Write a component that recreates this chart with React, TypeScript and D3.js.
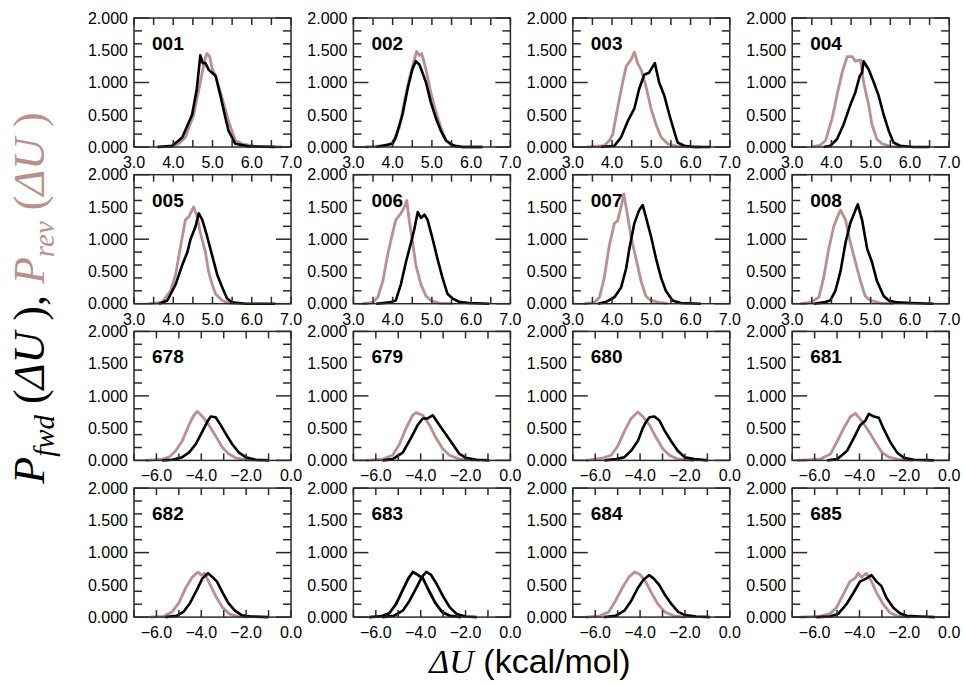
import { useEffect } from "react";
import { format, line, scaleLinear } from "d3";

type Pt = [number, number];

const panelNames = ["001", "002", "003", "004", "005", "006", "007", "008", "678", "679", "680", "681", "682", "683", "684", "685"];

const fwd001: Pt[] = [[3.6,0],[3.97,0.02],[4.14,0.1],[4.23,0.15],[4.48,0.5],[4.6,0.9],[4.69,1.42],[4.75,1.3],[4.82,1.3],[4.9,1.2],[5.08,1.1],[5.2,0.8],[5.33,0.45],[5.41,0.25],[5.58,0.05],[5.92,0.01],[6.6,0]];
const rev001: Pt[] = [[3.6,0],[3.97,0.01],[4.14,0.05],[4.31,0.15],[4.52,0.5],[4.69,1.0],[4.8,1.35],[4.86,1.45],[4.93,1.4],[4.99,1.22],[5.08,1.1],[5.25,0.75],[5.41,0.4],[5.58,0.1],[5.75,0.05],[6.09,0.01],[6.77,0]];
const fwd002: Pt[] = [[3.58,0],[4.0,0.05],[4.08,0.15],[4.25,0.5],[4.38,0.9],[4.5,1.2],[4.59,1.33],[4.68,1.28],[4.76,1.15],[4.85,1.0],[4.97,0.7],[5.1,0.45],[5.23,0.25],[5.36,0.1],[5.48,0.05],[5.57,0.02],[5.78,0],[6.29,0]];
const rev002: Pt[] = [[3.3,0],[3.83,0.02],[4.0,0.07],[4.17,0.3],[4.3,0.7],[4.42,1.05],[4.55,1.35],[4.61,1.48],[4.68,1.42],[4.74,1.45],[4.85,1.2],[4.97,0.85],[5.1,0.55],[5.23,0.3],[5.36,0.1],[5.48,0.03],[5.78,0],[6.29,0]];
const fwd003: Pt[] = [[3.72,0],[4.06,0.02],[4.23,0.15],[4.4,0.4],[4.57,0.6],[4.69,0.9],[4.82,1.12],[4.94,1.15],[5.09,1.3],[5.2,1.0],[5.33,0.8],[5.46,0.5],[5.58,0.25],[5.67,0.07],[5.84,0.02],[6.09,0],[6.5,0]];
const rev003: Pt[] = [[3.38,0],[3.8,0.02],[3.93,0.1],[4.02,0.2],[4.14,0.6],[4.27,1.0],[4.36,1.25],[4.48,1.35],[4.57,1.47],[4.65,1.3],[4.74,1.2],[4.86,0.95],[4.99,0.6],[5.12,0.35],[5.25,0.15],[5.42,0.05],[5.67,0.01],[6.26,0]];
const fwd004: Pt[] = [[3.8,0],[3.97,0.02],[4.14,0.12],[4.31,0.35],[4.48,0.65],[4.61,0.85],[4.72,1.1],[4.78,1.15],[4.82,1.33],[4.95,1.2],[5.08,1.0],[5.2,0.8],[5.33,0.5],[5.46,0.25],[5.58,0.07],[5.75,0.02],[6.09,0],[6.5,0]];
const rev004: Pt[] = [[3.47,0],[3.72,0.03],[3.85,0.1],[4.02,0.45],[4.14,0.8],[4.27,1.15],[4.4,1.4],[4.53,1.4],[4.61,1.33],[4.74,1.35],[4.82,1.0],[4.95,0.65],[5.03,0.35],[5.16,0.12],[5.29,0.05],[5.5,0.01],[5.75,0]];
const fwd005: Pt[] = [[3.64,0],[3.85,0.05],[4.06,0.3],[4.23,0.6],[4.36,0.8],[4.44,1.0],[4.57,1.2],[4.65,1.4],[4.74,1.3],[4.86,1.05],[4.99,0.75],[5.12,0.45],[5.25,0.25],[5.37,0.08],[5.5,0.02],[5.84,0],[6.6,0]];
const rev005: Pt[] = [[3.38,0],[3.72,0.02],[3.93,0.2],[4.06,0.45],[4.19,0.9],[4.31,1.3],[4.4,1.35],[4.48,1.45],[4.52,1.5],[4.61,1.35],[4.69,1.1],[4.82,0.8],[4.9,0.5],[4.99,0.3],[5.08,0.15],[5.25,0.05],[5.42,0.01],[5.67,0]];
const fwd006: Pt[] = [[3.58,0],[3.92,0.02],[4.08,0.05],[4.21,0.3],[4.34,0.65],[4.47,0.95],[4.55,1.15],[4.64,1.42],[4.72,1.33],[4.81,1.38],[4.89,1.3],[5.02,1.0],[5.14,0.7],[5.27,0.4],[5.4,0.15],[5.53,0.08],[5.69,0.03],[5.95,0.01],[6.46,0]];
const rev006: Pt[] = [[3.24,0],[3.49,0.02],[3.62,0.1],[3.75,0.35],[3.87,0.75],[4.0,1.1],[4.08,1.3],[4.21,1.4],[4.3,1.5],[4.36,1.6],[4.42,1.3],[4.51,0.95],[4.59,0.6],[4.72,0.3],[4.85,0.12],[4.97,0.05],[5.19,0.01],[5.53,0]];
const fwd007: Pt[] = [[3.64,0],[3.85,0.03],[4.06,0.1],[4.23,0.25],[4.36,0.55],[4.44,0.85],[4.57,1.25],[4.69,1.45],[4.78,1.53],[4.86,1.35],[4.99,1.05],[5.12,0.7],[5.25,0.4],[5.37,0.2],[5.54,0.05],[5.75,0.01],[6.26,0]];
const rev007: Pt[] = [[3.3,0],[3.55,0.02],[3.68,0.1],[3.8,0.4],[3.93,0.9],[4.06,1.25],[4.14,1.28],[4.23,1.5],[4.3,1.7],[4.4,1.35],[4.48,1.05],[4.61,0.7],[4.74,0.35],[4.86,0.12],[4.99,0.05],[5.2,0.02],[5.42,0]];
const fwd008: Pt[] = [[3.55,0],[3.8,0.02],[3.97,0.05],[4.1,0.2],[4.23,0.5],[4.36,0.95],[4.48,1.25],[4.61,1.45],[4.67,1.54],[4.78,1.3],[4.91,0.85],[5.03,0.65],[5.16,0.35],[5.33,0.12],[5.46,0.05],[5.67,0.02],[6.01,0.01],[6.6,0]];
const rev008: Pt[] = [[3.21,0],[3.47,0.02],[3.68,0.1],[3.8,0.4],[3.93,0.85],[4.06,1.2],[4.19,1.4],[4.23,1.45],[4.36,1.3],[4.48,0.95],[4.61,0.65],[4.74,0.35],[4.86,0.12],[4.99,0.05],[5.25,0.01],[5.58,0]];

const fwd678: Pt[] = [[-5.74,0],[-5.29,0.01],[-4.85,0.05],[-4.55,0.12],[-4.25,0.25],[-3.95,0.45],[-3.73,0.6],[-3.58,0.68],[-3.36,0.67],[-3.14,0.55],[-2.92,0.42],[-2.62,0.25],[-2.32,0.12],[-2.02,0.05],[-1.58,0.01],[-0.98,0]];
const rev678: Pt[] = [[-6.48,0],[-5.74,0.02],[-5.44,0.05],[-5.14,0.15],[-4.85,0.3],[-4.55,0.55],[-4.33,0.7],[-4.18,0.76],[-3.95,0.68],[-3.66,0.55],[-3.36,0.38],[-3.06,0.2],[-2.77,0.1],[-2.47,0.04],[-2.02,0.01],[-1.28,0]];
const fwd679: Pt[] = [[-5.69,0],[-5.25,0.02],[-4.8,0.12],[-4.43,0.35],[-4.13,0.55],[-3.91,0.65],[-3.69,0.65],[-3.46,0.7],[-3.17,0.55],[-2.87,0.4],[-2.57,0.25],[-2.27,0.1],[-1.98,0.04],[-1.53,0.01],[-0.94,0]];
const rev679: Pt[] = [[-6.44,0],[-5.69,0.02],[-5.25,0.08],[-4.95,0.25],[-4.65,0.5],[-4.36,0.7],[-4.21,0.74],[-3.91,0.7],[-3.61,0.55],[-3.32,0.35],[-3.02,0.18],[-2.72,0.08],[-2.27,0.02],[-1.38,0]];
const fwd680: Pt[] = [[-5.59,0],[-5.07,0.02],[-4.7,0.05],[-4.4,0.15],[-4.1,0.3],[-3.88,0.5],[-3.73,0.6],[-3.58,0.67],[-3.36,0.68],[-3.14,0.62],[-2.92,0.47],[-2.62,0.3],[-2.32,0.15],[-2.02,0.05],[-1.58,0.02],[-0.98,0]];
const rev680: Pt[] = [[-6.41,0],[-5.74,0.03],[-5.29,0.08],[-5.0,0.22],[-4.7,0.45],[-4.4,0.65],[-4.1,0.75],[-3.88,0.68],[-3.58,0.55],[-3.28,0.35],[-2.99,0.18],[-2.69,0.08],[-2.32,0.02],[-1.58,0]];
const fwd681: Pt[] = [[-5.44,0],[-4.99,0.02],[-4.55,0.15],[-4.25,0.35],[-3.96,0.55],[-3.73,0.62],[-3.58,0.72],[-3.36,0.68],[-3.14,0.66],[-2.91,0.48],[-2.62,0.28],[-2.32,0.12],[-2.02,0.04],[-1.58,0.01],[-0.68,0]];
const rev681: Pt[] = [[-6.78,0],[-5.74,0.02],[-5.29,0.1],[-4.99,0.3],[-4.7,0.5],[-4.4,0.68],[-4.18,0.73],[-3.88,0.6],[-3.58,0.45],[-3.29,0.28],[-2.99,0.12],[-2.69,0.05],[-2.17,0.01],[-1.58,0]];
const fwd682: Pt[] = [[-5.6,0],[-5.1,0.02],[-4.8,0.08],[-4.5,0.22],[-4.2,0.42],[-3.95,0.6],[-3.7,0.68],[-3.5,0.62],[-3.3,0.55],[-3.05,0.38],[-2.8,0.22],[-2.5,0.1],[-2.2,0.03],[-1.8,0.01],[-1.0,0]];
const rev682: Pt[] = [[-6.3,0],[-5.7,0.01],[-5.3,0.08],[-5.0,0.22],[-4.7,0.45],[-4.4,0.62],[-4.15,0.7],[-4.0,0.65],[-3.85,0.68],[-3.6,0.5],[-3.35,0.32],[-3.05,0.15],[-2.75,0.05],[-2.4,0.01],[-1.9,0]];
const fwd683: Pt[] = [[-5.7,0],[-5.2,0.02],[-4.8,0.1],[-4.5,0.25],[-4.2,0.45],[-3.95,0.62],[-3.75,0.7],[-3.55,0.66],[-3.3,0.52],[-3.0,0.32],[-2.7,0.15],[-2.4,0.05],[-2.0,0.01],[-1.5,0]];
const rev683: Pt[] = [[-6.3,0],[-5.8,0.01],[-5.4,0.06],[-5.1,0.2],[-4.8,0.42],[-4.55,0.6],[-4.35,0.7],[-4.15,0.66],[-3.9,0.6],[-3.65,0.42],[-3.35,0.22],[-3.05,0.08],[-2.7,0.02],[-2.2,0]];
const fwd684: Pt[] = [[-5.6,0],[-5.1,0.02],[-4.7,0.1],[-4.4,0.25],[-4.1,0.45],[-3.85,0.58],[-3.6,0.65],[-3.4,0.6],[-3.15,0.5],[-2.9,0.35],[-2.6,0.2],[-2.3,0.08],[-2.0,0.03],[-1.5,0.01],[-0.9,0]];
const rev684: Pt[] = [[-6.4,0],[-5.8,0.02],[-5.4,0.08],[-5.1,0.25],[-4.8,0.45],[-4.5,0.62],[-4.25,0.7],[-4.0,0.66],[-3.75,0.55],[-3.5,0.38],[-3.2,0.2],[-2.9,0.08],[-2.5,0.02],[-2.0,0]];
const fwd685: Pt[] = [[-5.92,0],[-5.32,0.01],[-4.95,0.05],[-4.58,0.2],[-4.28,0.37],[-3.98,0.55],[-3.69,0.6],[-3.46,0.65],[-3.24,0.55],[-3.02,0.48],[-2.8,0.3],[-2.5,0.15],[-2.2,0.06],[-1.9,0.02],[-1.31,0.01],[-0.64,0]];
const rev685: Pt[] = [[-6.66,0],[-5.77,0.01],[-5.32,0.05],[-5.02,0.15],[-4.73,0.35],[-4.43,0.55],[-4.21,0.6],[-4.06,0.68],[-3.91,0.62],[-3.69,0.68],[-3.46,0.55],[-3.24,0.38],[-2.94,0.2],[-2.65,0.07],[-2.35,0.02],[-1.75,0]];

const fwdSeries = [fwd001, fwd002, fwd003, fwd004, fwd005, fwd006, fwd007, fwd008, fwd678, fwd679, fwd680, fwd681, fwd682, fwd683, fwd684, fwd685];
const revSeries = [rev001, rev002, rev003, rev004, rev005, rev006, rev007, rev008, rev678, rev679, rev680, rev681, rev682, rev683, rev684, rev685];

const xDomainTop: [number, number] = [3, 7];
const xDomainBottom: [number, number] = [-7, 0];
const yDomain: [number, number] = [0, 2];

const FWD = "#000000";
const REV = "#bc8f8f";
const AXIS = "#2a2a2a";
const SANS = "'Liberation Sans', Arial, Helvetica, sans-serif";
const SERIF = "'Liberation Serif', 'Times New Roman', serif";

const panelW = 157;
const panelH = 129;
const left0 = 134;
const top0 = 18;
const colStep = 219.4;
const rowStep = 156.7;

const fmtX = format(".1f");
const fmtY = format(".3f");

function Panel({ idx }: { idx: number }) {
  const row = Math.floor(idx / 4);
  const col = idx % 4;
  const tx = left0 + col * colStep;
  const ty = top0 + row * rowStep;
  const upper = row < 2;
  const x = scaleLinear().domain(upper ? xDomainTop : xDomainBottom).range([0, panelW]);
  const y = scaleLinear().domain(yDomain).range([panelH, 0]);

  const xTicks = x.ticks(upper ? 8 : 7);
  const xLabels = upper ? x.ticks(4) : x.ticks(7).filter((v) => Math.round(v) % 2 === 0);
  const yMinor = y.ticks(8);
  const yMajor = y.ticks(4);

  const path = line<Pt>()
    .x((d) => x(d[0]))
    .y((d) => y(d[1]));

  const name = panelNames[idx];
  const revColor = name === "683" ? FWD : REV;

  return (
    <g transform={`translate(${tx},${ty})`}>
      <path d={path(revSeries[idx]) ?? ""} fill="none" stroke={revColor} strokeWidth={2.8} strokeLinejoin="round" />
      <path d={path(fwdSeries[idx]) ?? ""} fill="none" stroke={FWD} strokeWidth={2.6} strokeLinejoin="round" />
      <rect x={0} y={0} width={panelW} height={panelH} fill="none" stroke={AXIS} strokeWidth={1.5} />
      {xTicks.map((v) => (
        <g key={`xt${v}`} stroke={AXIS} strokeWidth={1.5}>
          <line x1={x(v)} x2={x(v)} y1={0} y2={7} />
          <line x1={x(v)} x2={x(v)} y1={panelH} y2={panelH - 7} />
        </g>
      ))}
      {yMinor.map((v) => {
        const len = yMajor.includes(v) ? 15 : 8;
        return (
          <g key={`yt${v}`} stroke={AXIS} strokeWidth={1.5}>
            <line x1={0} x2={len} y1={y(v)} y2={y(v)} />
            <line x1={panelW} x2={panelW - len} y1={y(v)} y2={y(v)} />
          </g>
        );
      })}
      {xLabels.map((v) => (
        <text key={`xl${v}`} x={x(v)} y={panelH + 21} textAnchor="middle" fontFamily={SANS} fontSize={16} fill="#000">
          {fmtX(v)}
        </text>
      ))}
      {yMajor.map((v) => (
        <text key={`yl${v}`} x={-6} y={y(v)} dy="0.36em" textAnchor="end" fontFamily={SANS} fontSize={16} fill="#000">
          {fmtY(v)}
        </text>
      ))}
      <text x={18} y={32} fontFamily={SANS} fontWeight="bold" fontSize={19} fill="#000">
        {name}
      </text>
    </g>
  );
}

export default function App() {
  useEffect(() => {
    document.body.style.margin = "0";
  }, []);

  return (
    <svg width={964} height={685} viewBox="0 0 964 685" style={{ display: "block", background: "#fff" }}>
      {panelNames.map((n, i) => (
        <Panel key={n} idx={i} />
      ))}
      <text transform="translate(44,298) rotate(-90)" textAnchor="middle" fontFamily={SERIF} fontSize={44}>
        <tspan fill={FWD} fontStyle="italic">P</tspan>
        <tspan fill={FWD} fontStyle="italic" fontSize={29} dy={10}>fwd</tspan>
        <tspan fill={FWD} dy={-10}> (</tspan>
        <tspan fill={FWD} fontStyle="italic">ΔU</tspan>
        <tspan fill={FWD}> ), </tspan>
        <tspan fill={REV} fontStyle="italic">P</tspan>
        <tspan fill={REV} fontStyle="italic" fontSize={29} dy={10}>rev</tspan>
        <tspan fill={REV} dy={-10}> (</tspan>
        <tspan fill={REV} fontStyle="italic">ΔU</tspan>
        <tspan fill={REV}> )</tspan>
      </text>
      <text x={530} y={673} textAnchor="middle" fontSize={34} fill="#000">
        <tspan fontFamily={SERIF} fontStyle="italic">ΔU</tspan>
        <tspan fontFamily={SANS}> (kcal/mol)</tspan>
      </text>
    </svg>
  );
}
